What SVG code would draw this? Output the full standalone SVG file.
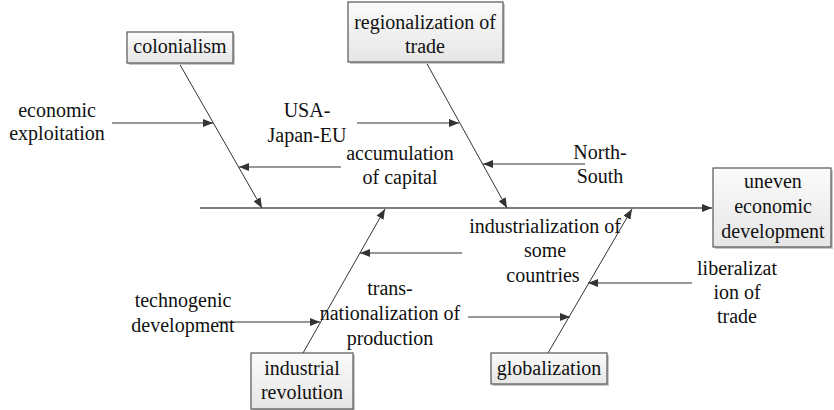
<svg xmlns="http://www.w3.org/2000/svg" width="834" height="410" viewBox="0 0 834 410">
<style>
text{font-family:"Liberation Serif","Times New Roman",serif;font-size:20px;fill:#111;text-anchor:middle}
.box{fill:url(#g);stroke:#555;stroke-width:1.2}
.sh{fill:#c8c8c8}
.ln{stroke:#333;stroke-width:1;fill:none;marker-end:url(#ah)}
.sp{stroke:#555;stroke-width:1.6;fill:none;marker-end:url(#ah)}
</style>
<defs>
<linearGradient id="g" x1="0" y1="0" x2="0" y2="1"><stop offset="0" stop-color="#fbfbfb"/><stop offset="1" stop-color="#e6e6e6"/></linearGradient>
<marker id="ah" viewBox="0 0 10 8" refX="10" refY="4" markerWidth="10" markerHeight="8" markerUnits="userSpaceOnUse" orient="auto"><path d="M0,0L10,4L0,8z" fill="#333"/></marker>
</defs>
<g id="connectors">
<line class="sp" x1="200" y1="208" x2="712" y2="208"/>
<line class="ln" x1="179" y1="63" x2="262" y2="208"/>
<line class="ln" x1="426" y1="62" x2="507" y2="208"/>
<line class="ln" x1="303" y1="353" x2="385" y2="209"/>
<line class="ln" x1="548" y1="353" x2="632" y2="209"/>
<line class="ln" x1="112" y1="123" x2="213" y2="123"/>
<line class="ln" x1="341" y1="167" x2="239" y2="167"/>
<line class="ln" x1="357" y1="123" x2="459" y2="123"/>
<line class="ln" x1="585" y1="164" x2="483" y2="164"/>
<line class="ln" x1="462" y1="253" x2="360" y2="253"/>
<line class="ln" x1="218" y1="322" x2="320" y2="322"/>
<line class="ln" x1="468" y1="317" x2="570" y2="317"/>
<line class="ln" x1="692" y1="283" x2="588" y2="283"/>
</g>
<g id="colonialism"><rect class="sh" x="129" y="34" width="106" height="31"/><rect class="box" x="127" y="32" width="106" height="31"/><text x="180" y="53">colonialism</text></g>
<g id="regionalization"><rect class="sh" x="350" y="4" width="155" height="60"/><rect class="box" x="348" y="2" width="155" height="60"/><text x="425" y="29">regionalization of</text><text x="425" y="53">trade</text></g>
<g id="uneven"><rect class="sh" x="715" y="170" width="118" height="79"/><rect class="box" x="713" y="168" width="118" height="79"/><text x="773" y="188">uneven</text><text x="773" y="213">economic</text><text x="773" y="238">development</text></g>
<g id="industrial"><rect class="sh" x="253" y="355" width="102" height="56"/><rect class="box" x="251" y="353" width="102" height="56"/><text x="302" y="375">industrial</text><text x="302" y="399">revolution</text></g>
<g id="globalization"><rect class="sh" x="493" y="355" width="116" height="31"/><rect class="box" x="491" y="353" width="116" height="31"/><text x="549" y="375">globalization</text></g>
<g id="economic-exploitation"><text x="57" y="117">economic</text><text x="57" y="140">exploitation</text></g>
<g id="usa-japan-eu"><text x="307" y="117">USA-</text><text x="307" y="142">Japan-EU</text></g>
<g id="accumulation"><text x="400" y="160">accumulation</text><text x="400" y="184">of capital</text></g>
<g id="north-south"><text x="600" y="159">North-</text><text x="600" y="183">South</text></g>
<g id="industrialization"><text x="545" y="233">industrialization of</text><text x="545" y="257">some</text><text x="543" y="282">countries</text></g>
<g id="liberalization"><text x="737" y="275">liberalizat</text><text x="737" y="299">ion of</text><text x="737" y="323">trade</text></g>
<g id="technogenic"><text x="183" y="307">technogenic</text><text x="183" y="332">development</text></g>
<g id="transnationalization"><text x="390" y="295">trans-</text><text x="390" y="320">nationalization of</text><text x="390" y="345">production</text></g>
</svg>
